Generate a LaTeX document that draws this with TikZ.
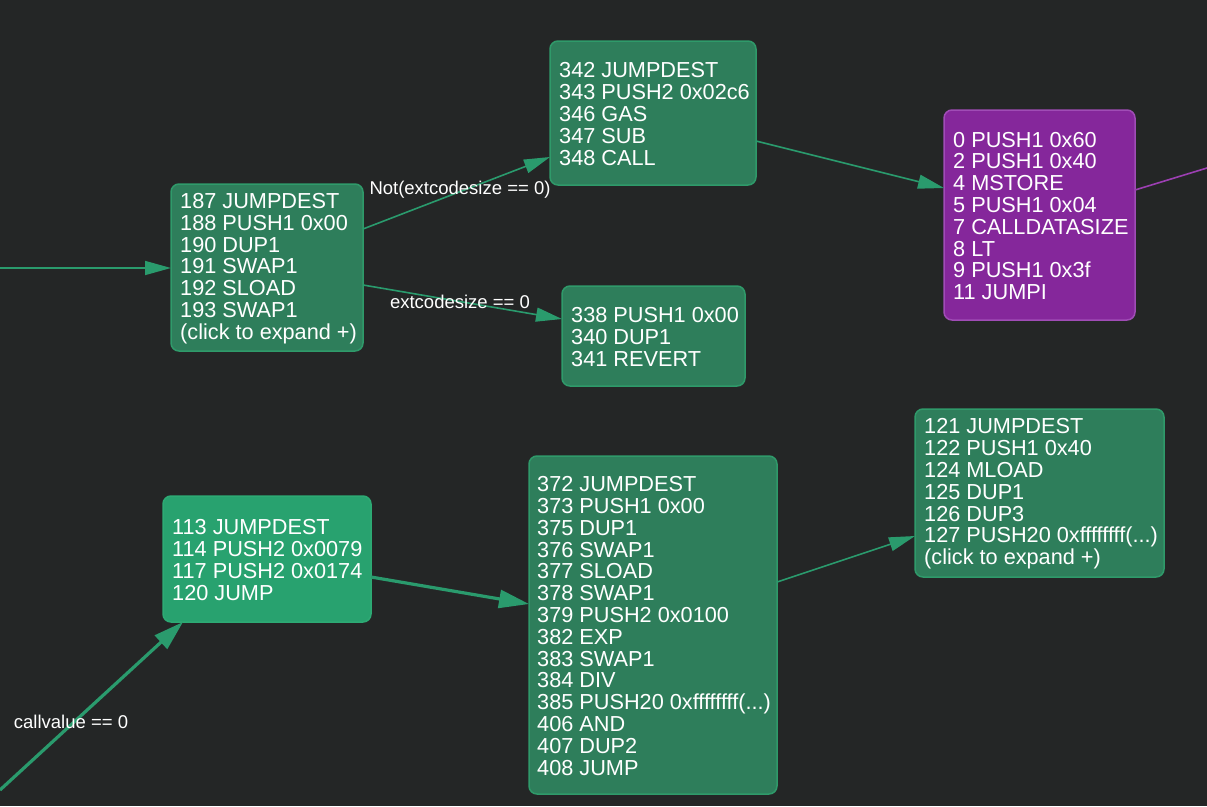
\documentclass[tikz,border=0pt]{standalone}
\usepackage{fontspec}
\setmainfont{Liberation Sans}
\usetikzlibrary{arrows.meta,calc}
\definecolor{bg}{HTML}{242626}
\definecolor{nodefill}{HTML}{2E7E5B}
\definecolor{nodeborder}{HTML}{2F9A6A}
\definecolor{brightfill}{HTML}{28A26F}
\definecolor{brightborder}{HTML}{2DAA74}
\definecolor{purplefill}{HTML}{85279B}
\definecolor{purpleborder}{HTML}{A04CB6}
\definecolor{edgecol}{HTML}{2A9B6D}
\definecolor{purpleedge}{HTML}{9C3FB2}
\begin{document}
\begin{tikzpicture}[x=1pt,y=-1pt,
  box/.style={draw=nodeborder, fill=nodefill, line width=1.5pt, rounded corners=8pt,
    anchor=north west, inner sep=0pt, outer sep=0pt},
  brightbox/.style={box, draw=brightborder, fill=brightfill},
  purplebox/.style={box, draw=purpleborder, fill=purplefill},
  code/.style={anchor=west, text=white, align=left, inner sep=0pt,
    font=\fontsize{21.7}{21.8}\selectfont},
  elabel/.style={text=white, inner sep=0pt, font=\fontsize{18.5}{20}\selectfont},
  edge/.style={draw=edgecol, line width=1.6pt, -{Triangle[length=26pt,width=14pt]}},
  thickedge/.style={draw=edgecol, line width=3.2pt, -{Triangle[length=30pt,width=18pt]}}
]
\fill[bg] (0,0) rectangle (1207,806);
\useasboundingbox (0,0) rectangle (1207,806);

% boxes
\node[box, minimum width=192pt, minimum height=167pt] (A) at (171,184) {};
\node[code] (At) at ($(A.west)+(9,1)$) {187 JUMPDEST\\188 PUSH1 0x00\\190 DUP1\\191 SWAP1\\192 SLOAD\\193 SWAP1\\(click to expand +)};

\node[box, minimum width=206pt, minimum height=144pt] (B) at (550,41) {};
\node[code] (Bt) at ($(B.west)+(9,1)$) {342 JUMPDEST\\343 PUSH2 0x02c6\\346 GAS\\347 SUB\\348 CALL};

\node[box, minimum width=183pt, minimum height=100pt] (C) at (562,286) {};
\node[code] (Ct) at ($(C.west)+(9,1)$) {338 PUSH1 0x00\\340 DUP1\\341 REVERT};

\node[purplebox, minimum width=191pt, minimum height=210pt] (P) at (944,110) {};
\node[code] (Pt) at ($(P.west)+(9,1)$) {0 PUSH1 0x60\\2 PUSH1 0x40\\4 MSTORE\\5 PUSH1 0x04\\7 CALLDATASIZE\\8 LT\\9 PUSH1 0x3f\\11 JUMPI};

\node[brightbox, minimum width=208pt, minimum height=126pt] (D) at (163,496) {};
\node[code] (Dt) at ($(D.west)+(9,1)$) {113 JUMPDEST\\114 PUSH2 0x0079\\117 PUSH2 0x0174\\120 JUMP};

\node[box, minimum width=248pt, minimum height=338pt] (E) at (529,456) {};
\node[code] (Et) at ($(E.west)+(8,1)$) {372 JUMPDEST\\373 PUSH1 0x00\\375 DUP1\\376 SWAP1\\377 SLOAD\\378 SWAP1\\379 PUSH2 0x0100\\382 EXP\\383 SWAP1\\384 DIV\\385 PUSH20 0xffffffff(...)\\406 AND\\407 DUP2\\408 JUMP};

\node[box, minimum width=249pt, minimum height=168pt] (F) at (915,409) {};
\node[code] (Ft) at ($(F.west)+(9,1)$) {121 JUMPDEST\\122 PUSH1 0x40\\124 MLOAD\\125 DUP1\\126 DUP3\\127 PUSH20 0xffffffff(...)\\(click to expand +)};

% free ends
\coordinate (inA) at (0,268);
\coordinate (inD) at (0,790);
\coordinate (outP) at (1207,168);

% connectors
\draw[edge] (inA) -- ($(A.north west)+(0,84)$);
\draw[edge] ($(A.north east)+(0,45)$) -- ($(B.south west)+(0,-28)$);
\draw[edge] ($(A.north east)+(0,101)$) -- ($(C.north west)+(0,33)$);
\draw[edge] ($(B.north east)+(0,100)$) -- ($(P.north west)+(0,78)$);
\draw[draw=purpleedge, line width=1.6pt] ($(P.north east)+(0,80)$) -- (outP);
\draw[thickedge] (inD) -- ($(D.south west)+(20,0)$);
\draw[thickedge] ($(D.north east)+(0,81)$) -- ($(E.north west)+(0,148)$);
\draw[edge] ($(E.north east)+(0,126)$) -- ($(F.north west)+(0,127)$);

% labels
\node[elabel] (l1) at (460,190) {Not(extcodesize == 0)};
\node[elabel] (l2) at (460,302) {extcodesize == 0};
\node[elabel] (l3) at (71,722) {callvalue == 0};
\end{tikzpicture}
\end{document}
